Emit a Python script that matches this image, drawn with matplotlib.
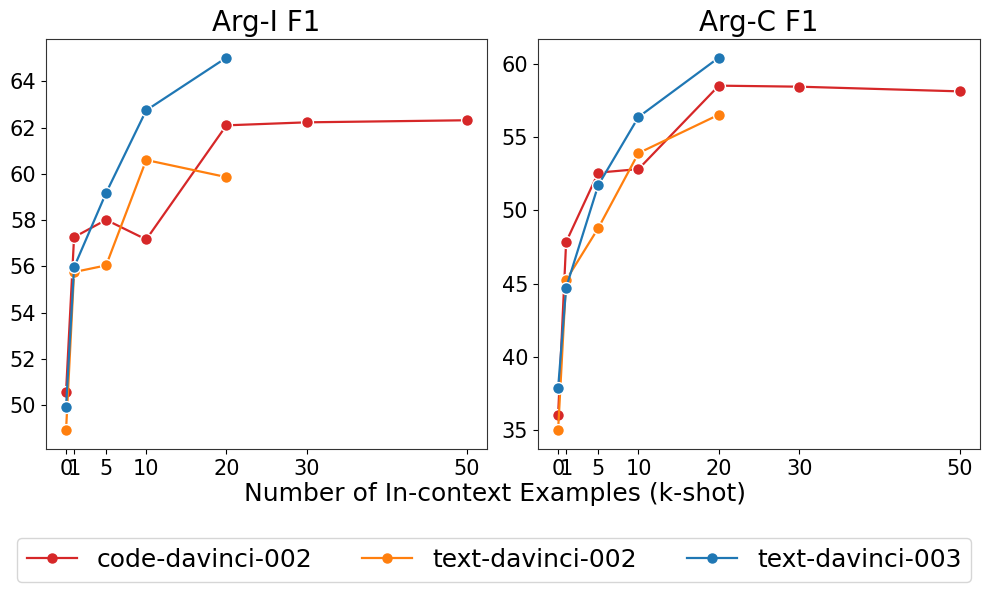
import matplotlib
matplotlib.use("Agg")
import matplotlib.pyplot as plt
from matplotlib.lines import Line2D

shots_long = [0, 1, 5, 10, 20, 30, 50]
shots_short = [0, 1, 5, 10, 20]
xticks = [0, 1, 5, 10, 20, 30, 50]

models = ["code-davinci-002", "text-davinci-002", "text-davinci-003"]
colors = ["#d62728", "#ff7f0e", "#1f77b4"]

argi_code002 = [50.56, 57.26, 58.01, 57.16, 62.10, 62.23, 62.32]
argi_text002 = [48.90, 55.75, 56.04, 60.60, 59.86]
argi_text003 = [49.91, 55.96, 59.18, 62.75, 65.03]

argc_code002 = [36.04, 47.84, 52.57, 52.81, 58.50, 58.43, 58.11]
argc_text002 = [35.00, 45.25, 48.79, 53.90, 56.52]
argc_text003 = [37.86, 44.73, 51.72, 56.36, 60.41]

fig = plt.figure(figsize=(9.9, 5.93), dpi=100)
ax1 = fig.add_axes([46/990, 1-449/593, (487-46)/990, (449-39)/593])
ax2 = fig.add_axes([538/990, 1-449/593, (980-538)/990, (449-39)/593])

panels = [
    (ax1, "Arg-I F1", [argi_code002, argi_text002, argi_text003]),
    (ax2, "Arg-C F1", [argc_code002, argc_text002, argc_text003]),
]
for ax, title, series in panels:
    for name, col, vals in zip(models, colors, series):
        xs = shots_long if len(vals) == len(shots_long) else shots_short
        ax.plot(xs, vals, color=col, marker="o", markersize=8.5,
                markeredgecolor="white", markeredgewidth=1.0,
                linewidth=1.6, label=name)
    ax.set_title(title, fontsize=20)
    ax.set_xticks(xticks)
    ax.tick_params(axis="both", labelsize=15)
    for s in ax.spines.values():
        s.set_color("#333333")

ax1.set_yticks([50, 52, 54, 56, 58, 60, 62, 64])
ax2.set_yticks([35, 40, 45, 50, 55, 60])

fig.text(0.5, 1-494/593, "Number of In-context Examples (k-shot)",
         ha="center", va="center", fontsize=18)

leg_handles = [Line2D([0], [0], color=c, marker="o", markersize=6.5, linewidth=1.6)
               for c in colors]
fig.legend(leg_handles, models, loc="center", ncol=3, fontsize=18,
           bbox_to_anchor=(494/990, 1-560/593), columnspacing=2.0,
           handlelength=2.0)

fig.savefig("out.png", dpi=100)
